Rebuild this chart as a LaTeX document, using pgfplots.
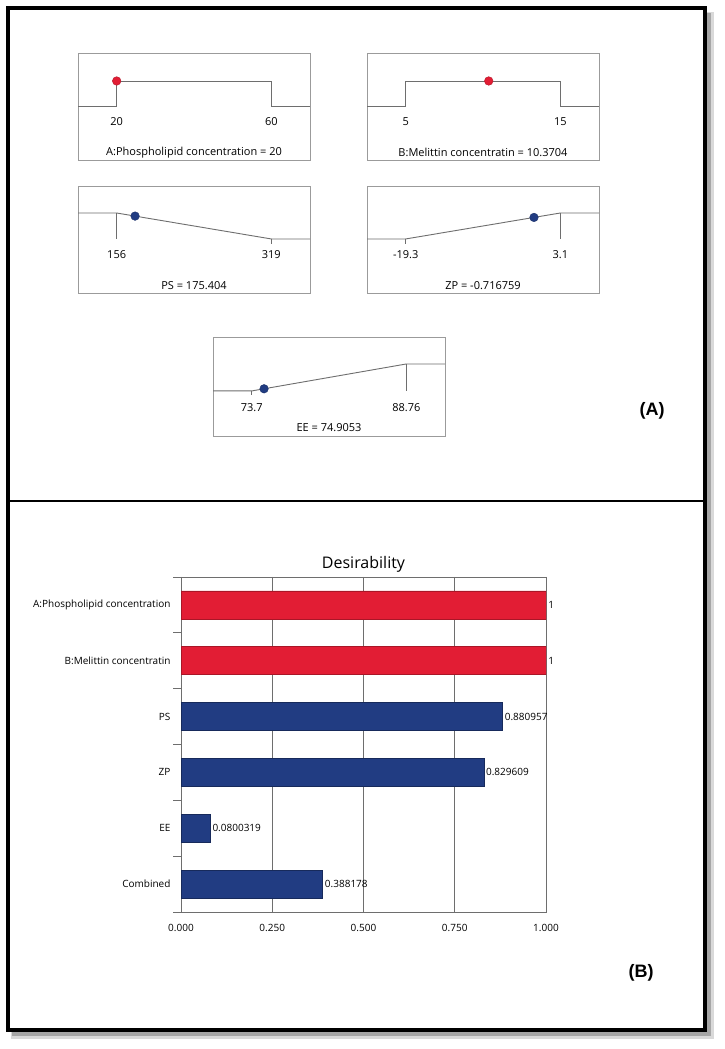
\documentclass[border=0pt]{standalone}
\usepackage{fontspec}
\setmainfont{Open Sans}
\newfontfamily\tagfont{Liberation Sans}
\usepackage{pgfplots}
\pgfplotsset{compat=1.18}

\definecolor{DesRed}{RGB}{226,29,52}
\definecolor{DesBlue}{RGB}{33,60,130}
\definecolor{BoxGray}{RGB}{155,155,155}
\definecolor{LineGray}{RGB}{110,110,110}

\pgfplotsset{
  profile/.style={
    scale only axis, width=232pt, height=107pt, anchor=north west,
    axis line style={BoxGray, line width=0.9pt},
    ticks=none, clip=false,
  },
  profline/.style={LineGray, line width=0.9pt, mark=none},
  reddot/.style={only marks, mark=*, mark size=4.3pt, color=DesRed, mark options={draw=DesRed!80!black}},
  bluedot/.style={only marks, mark=*, mark size=4.3pt, color=DesBlue, mark options={draw=DesBlue!80!black}},
}
\newcommand\lab{\fontsize{11}{12}\selectfont}

\begin{document}
\begin{tikzpicture}
\useasboundingbox (0pt,0pt) rectangle (725pt,1049pt);
\fill[white] (0pt,0pt) rectangle (725pt,1049pt);
% frame with soft shadow
\fill[black!15] (11pt,10pt) rectangle (714pt,1037pt);
\fill[black!35] (12pt,13pt) rectangle (711pt,1036pt);
\draw[line width=4pt, fill=white] (8pt,19pt) rectangle (705pt,1041pt);
\draw[line width=2.2pt] (8pt,548pt) -- (705pt,548pt);

% ---- panel A ----
\begin{axis}[profile, at={(78pt,996pt)}, xmin=10, xmax=70, ymin=-2.16, ymax=2.12]
\addplot[profline] coordinates {(10,0) (20,0) (20,1) (60,1) (60,0) (70,0)};
\addplot[reddot] coordinates {(20,1)};
\node[font=\lab] at (axis cs:20,-0.64) {20};
\node[font=\lab] at (axis cs:60,-0.64) {60};
\node[font=\lab] at (rel axis cs:0.5,0.07) {A:Phospholipid concentration = 20};
\end{axis}

\begin{axis}[profile, at={(367pt,996pt)}, xmin=2.5, xmax=17.5, ymin=-2.16, ymax=2.12]
\addplot[profline] coordinates {(2.5,0) (5,0) (5,1) (15,1) (15,0) (17.5,0)};
\addplot[reddot] coordinates {(10.3704,1)};
\node[font=\lab] at (axis cs:5,-0.64) {5};
\node[font=\lab] at (axis cs:15,-0.64) {15};
\node[font=\lab] at (rel axis cs:0.5,0.07) {B:Melittin concentratin = 10.3704};
\end{axis}

\begin{axis}[profile, at={(78pt,863pt)}, xmin=115.25, xmax=359.75, ymin=-2.08, ymax=2.04]
\addplot[profline] coordinates {(115.25,1) (156,1) (319,0) (359.75,0)};
\addplot[profline] coordinates {(156,1) (156,0)};
\addplot[profline] coordinates {(319,0) (319,-0.2)};
\addplot[bluedot] coordinates {(175.404,0.880957)};
\node[font=\lab] at (axis cs:156,-0.62) {156};
\node[font=\lab] at (axis cs:319,-0.62) {319};
\node[font=\lab] at (rel axis cs:0.5,0.07) {PS = 175.404};
\end{axis}

\begin{axis}[profile, at={(367pt,863pt)}, xmin=-24.9, xmax=8.7, ymin=-2.08, ymax=2.04]
\addplot[profline] coordinates {(-24.9,0) (-19.3,0) (3.1,1) (8.7,1)};
\addplot[profline] coordinates {(-19.3,0) (-19.3,-0.2)};
\addplot[profline] coordinates {(3.1,1) (3.1,0)};
\addplot[bluedot] coordinates {(-0.716759,0.829609)};
\node[font=\lab] at (axis cs:-19.3,-0.62) {-19.3};
\node[font=\lab] at (axis cs:3.1,-0.62) {3.1};
\node[font=\lab] at (rel axis cs:0.5,0.07) {ZP = -0.716759};
\end{axis}

\begin{axis}[profile, at={(213pt,712pt)}, height=99pt, xmin=69.935, xmax=92.525, ymin=-1.67, ymax=2]
\addplot[profline] coordinates {(69.935,0) (73.7,0) (88.76,1) (92.525,1)};
\addplot[profline] coordinates {(73.7,0) (73.7,-0.15)};
\addplot[profline] coordinates {(88.76,1) (88.76,0)};
\addplot[bluedot] coordinates {(74.9053,0.0800319)};
\node[font=\lab] at (axis cs:73.7,-0.63) {73.7};
\node[font=\lab] at (axis cs:88.76,-0.63) {88.76};
\node[font=\lab] at (rel axis cs:0.5,0.08) {EE = 74.9053};
\end{axis}

\node[font=\tagfont\bfseries\fontsize{18}{20}\selectfont] at (652pt,638pt) {(A)};

% ---- panel B ----
\begin{axis}[
  at={(181pt,472pt)}, anchor=north west,
  scale only axis, width=365pt, height=335pt,
  xbar, bar width=0.5, bar shift=0pt,
  xmin=0, xmax=1, ymin=-0.5, ymax=5.5, y dir=reverse,
  xtick={0,0.25,0.5,0.75,1},
  xticklabels={0.000,0.250,0.500,0.750,1.000},
  ytick={0,1,2,3,4,5},
  yticklabels={A:Phospholipid concentration,B:Melittin concentratin,PS,ZP,EE,Combined},
  minor ytick={-0.5,0.5,1.5,2.5,3.5,4.5,5.5},
  ytick pos=left,
  major tick length=0pt, minor tick length=8pt, tick align=outside,
  tick style={LineGray, line width=0.8pt},
  xmajorgrids, grid style={LineGray, line width=0.8pt},
  axis line style={LineGray, line width=0.8pt},
  ticklabel style={font=\fontsize{10}{11}\selectfont},
  yticklabel style={xshift=-7pt},
  xticklabel style={yshift=-9pt},
  title={Desirability},
  title style={font=\fontsize{16}{18}\selectfont, yshift=-5pt},
  point meta=explicit symbolic,
  nodes near coords,
  nodes near coords align={horizontal},
  nodes near coords style={font=\fontsize{10}{11}\selectfont, black, anchor=west, inner sep=2pt},
]
\addplot[fill=DesRed, draw=DesRed!75!black, line width=0.6pt]
  coordinates {(1,0) [1] (1,1) [1]};
\addplot[fill=DesBlue, draw=DesBlue!70!black, line width=0.6pt]
  coordinates {(0.880957,2) [0.880957] (0.829609,3) [0.829609] (0.0800319,4) [0.0800319] (0.388178,5) [0.388178]};
\end{axis}

\node[font=\tagfont\bfseries\fontsize{18}{20}\selectfont] at (641pt,76pt) {(B)};
\end{tikzpicture}
\end{document}
